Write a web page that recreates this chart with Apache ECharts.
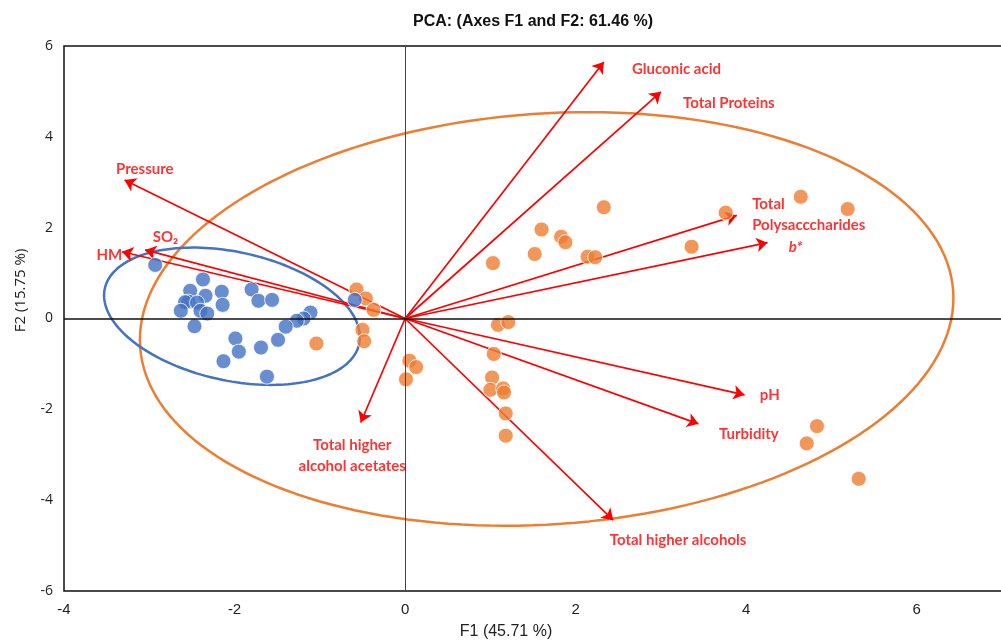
<!DOCTYPE html>
<html>
<head>
<meta charset="utf-8">
<script src="https://cdn.jsdelivr.net/npm/echarts@6/dist/echarts.min.js"></script>
<style>
  html, body { margin: 0; padding: 0; background: #fff; }
  #pca_chart { width: 1001px; height: 641px; }
</style>
</head>
<body>
<div id="pca_chart"></div>
<script>
  // observations (F1, F2)
  const blueObs = [
    [-2.93, 1.18], [-2.37, 0.86], [-2.52, 0.61], [-2.15, 0.59], [-1.80, 0.64],
    [-1.72, 0.39], [-1.56, 0.41], [-2.34, 0.50], [-2.54, 0.37], [-2.58, 0.36],
    [-2.44, 0.35], [-2.14, 0.30], [-2.63, 0.17], [-2.40, 0.17], [-2.32, 0.11],
    [-2.47, -0.17], [-1.11, 0.13], [-1.19, 0.00], [-1.27, -0.05], [-1.40, -0.18],
    [-1.49, -0.47], [-1.99, -0.44], [-1.95, -0.73], [-1.69, -0.64], [-2.13, -0.94],
    [-1.62, -1.28], [-0.59, 0.41]
  ]
  const orangeObs = [
    [-0.57, 0.64], [-0.46, 0.44], [-0.37, 0.19], [-0.50, -0.25], [-0.48, -0.50],
    [-1.04, -0.55], [0.05, -0.93], [0.13, -1.07], [0.01, -1.34], [2.33, 2.45],
    [1.60, 1.96], [1.83, 1.80], [1.88, 1.68], [1.52, 1.42], [1.03, 1.22],
    [2.14, 1.36], [2.23, 1.35], [1.04, -0.78], [1.02, -1.30], [1.00, -1.57],
    [1.15, -1.54], [1.16, -1.63], [1.18, -2.09], [1.18, -2.58], [1.09, -0.14],
    [1.21, -0.08], [4.64, 2.68], [5.19, 2.41], [3.76, 2.33], [3.36, 1.58],
    [4.83, -2.37], [4.71, -2.75], [5.32, -3.53]
  ]

  // variables (loadings, scaled)
  const varNames = [
    'Gluconic acid', 'Total Proteins', 'Total\nPolysacccharides', 'b*', 'pH', 'Turbidity',
    'Total higher alcohols', 'Total higher\nalcohol acetates', 'Pressure', 'SO₂', 'HM'
  ]
  const varLoadings = [
    [2.33, 5.65], [3.00, 4.99], [3.89, 2.27], [4.25, 1.67], [3.98, -1.68], [3.44, -2.32],
    [2.44, -4.44], [-0.52, -2.29], [-3.29, 3.05], [-3.05, 1.51], [-3.32, 1.47]
  ]

  // group ellipses: centre, x half-width, y components
  const blueEllipse = { cx: -2.03, cy: 0.05, ax: 1.5, byc: -0.46, bys: 1.44 }
  const orangeEllipse = { cx: 1.66, cy: -0.01, ax: 4.77, byc: 0.46, bys: 4.53 }

  // label anchors for the variable names
  const labelAnchors = [
    [2.66, 5.49], [3.26, 4.74], [4.07, 2.28], [4.50, 1.57], [4.16, -1.68], [3.68, -2.54],
    [2.40, -4.88], [-0.62, -3.03], [-3.39, 3.29], [-2.96, 1.79], [-3.62, 1.40]
  ]

  function ellipsePath (e) {
    let pts = []
    for (let i = 0; i <= 180; i++) {
      let t = i / 180 * Math.PI * 2
      pts.push([e.cx + e.ax * Math.cos(t), e.cy + e.byc * Math.cos(t) + e.bys * Math.sin(t)])
    }
    return pts
  }

  let myChart = echarts.init(document.getElementById('pca_chart'))
  let labelFont = 'Lato, "Open Sans", sans-serif'
  let option = {
    animation: false,
    title: {
      text: 'PCA: (Axes F1 and F2: 61.46 %)',
      left: 408,
      top: 9,
      textStyle: {
        fontFamily: '"Liberation Sans Narrow", "Liberation Sans", sans-serif',
        fontSize: 16,
        fontWeight: 'bold',
        color: '#111'
      }
    },
    grid: {
      left: 64,
      right: -1,
      top: 46,
      bottom: 50,
      outerBoundsMode: 'none',
      containLabel: false,
      show: true,
      borderColor: '#111',
      borderWidth: 1.5
    },
    xAxis: {
      type: 'value',
      min: -4,
      max: 7,
      interval: 2,
      name: 'F1 (45.71 %)',
      nameLocation: 'middle',
      nameGap: 33,
      nameTextStyle: {
        fontFamily: '"Liberation Sans Narrow", sans-serif',
        fontSize: 16,
        color: '#222',
        padding: [0, 54, 0, 0]
      },
      axisLine: { show: false },
      axisTick: { show: false },
      splitLine: { show: false },
      axisLabel: {
        showMaxLabel: false,
        margin: 11,
        fontFamily: '"Liberation Sans Narrow", sans-serif',
        fontSize: 15,
        color: '#222'
      }
    },
    yAxis: {
      type: 'value',
      min: -6,
      max: 6,
      interval: 2,
      name: 'F2 (15.75 %)',
      nameLocation: 'middle',
      nameGap: 36,
      nameTextStyle: {
        fontFamily: '"Open Sans", sans-serif',
        fontSize: 15,
        color: '#222',
        padding: [0, 0, 0, 56]
      },
      axisLine: { show: false },
      axisTick: { show: false },
      splitLine: { show: false },
      axisLabel: {
        margin: 11,
        fontFamily: '"Open Sans", sans-serif',
        fontSize: 14,
        color: '#222'
      }
    },
    series: [
      {
        name: 'zero',
        type: 'line',
        data: [],
        markLine: {
          silent: true,
          symbol: 'none',
          label: { show: false },
          data: [
            { xAxis: 0, lineStyle: { color: '#444', width: 1, type: 'solid' } },
            { yAxis: 0, lineStyle: { color: '#111', width: 1.5, type: 'solid' } }
          ]
        },
        z: 1
      },
      {
        name: 'orange ellipse',
        type: 'line',
        data: ellipsePath(orangeEllipse),
        showSymbol: false,
        lineStyle: { color: '#ed7d31', width: 2.5 },
        silent: true,
        z: 2
      },
      {
        name: 'blue ellipse',
        type: 'line',
        data: ellipsePath(blueEllipse),
        showSymbol: false,
        lineStyle: { color: '#4472c4', width: 2.5 },
        silent: true,
        z: 2
      },
      {
        name: 'variables',
        type: 'lines',
        coordinateSystem: 'cartesian2d',
        symbol: ['none', 'arrow'],
        symbolSize: 11,
        lineStyle: { color: '#ff0000', width: 1.7, opacity: 1, curveness: 0 },
        data: varLoadings.map(function (p) {
          return { coords: [[0, 0], p] }
        }),
        z: 3
      },
      {
        name: 'orange',
        type: 'scatter',
        symbolSize: 15,
        itemStyle: { color: '#ed7d31', borderColor: '#fff', borderWidth: 1 },
        data: orangeObs,
        z: 4
      },
      {
        name: 'blue',
        type: 'scatter',
        symbolSize: 15,
        itemStyle: { color: '#4472c4', borderColor: '#fff', borderWidth: 1 },
        data: blueObs,
        z: 4
      },
      {
        name: 'variable labels',
        type: 'scatter',
        symbolSize: 0,
        silent: true,
        z: 5,
        label: {
          show: true,
          position: [0, 0],
          align: 'left',
          verticalAlign: 'middle',
          color: '#ff0000',
          fontFamily: labelFont,
          fontWeight: 'bold',
          fontSize: 15,
          lineHeight: 21,
          formatter: function (p) { return p.name }
        },
        data: varNames.map(function (n, i) {
          let item = { name: n, value: labelAnchors[i] }
          if (n === 'b*') item.label = { fontStyle: 'italic' }
          if (n.indexOf('acetates') >= 0) item.label = { align: 'center' }
          return item
        })
      }
    ]
  }
  myChart.setOption(option)
</script>
</body>
</html>
